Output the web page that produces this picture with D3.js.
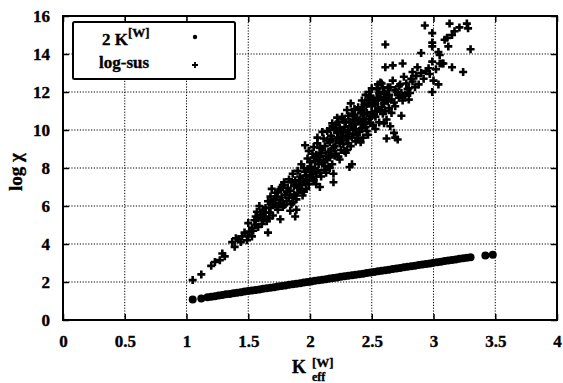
<!DOCTYPE html>
<html><head><meta charset="utf-8">
<script src="https://cdn.jsdelivr.net/npm/d3@7"></script>
<style>
body{margin:0;background:#fff}
text{font-family:"Liberation Serif","DejaVu Serif",serif;font-weight:bold;fill:#000;stroke:#000;stroke-width:0.35px}
</style>
</head><body>
<svg id="c" width="563" height="383"></svg>
<script>
// Axis ticks
const xTicks = [0, 0.5, 1, 1.5, 2, 2.5, 3, 3.5, 4];
const yTicks = [0, 2, 4, 6, 8, 10, 12, 14, 16];

// Series "2 K[W]" (filled dots)
const twoK = [
  [1.05,1.08],[1.12,1.13],
  [1.17,1.2],[1.2,1.22],[1.23,1.25],[1.26,1.29],[1.29,1.31],[1.32,1.35],[1.35,1.37],[1.38,1.41],
  [1.41,1.43],[1.44,1.46],[1.47,1.5],[1.5,1.52],[1.53,1.55],[1.56,1.58],[1.59,1.61],[1.62,1.64],
  [1.65,1.67],[1.68,1.7],[1.71,1.73],[1.74,1.76],[1.77,1.79],[1.8,1.82],[1.83,1.85],[1.86,1.88],
  [1.89,1.91],[1.92,1.94],[1.95,1.97],[1.98,2.0],[2.01,2.03],[2.04,2.06],[2.07,2.09],[2.1,2.12],
  [2.13,2.15],[2.16,2.18],[2.19,2.21],[2.22,2.24],[2.25,2.27],[2.28,2.3],[2.31,2.33],[2.34,2.35],
  [2.37,2.38],[2.4,2.41],[2.43,2.44],[2.46,2.47],[2.49,2.5],[2.52,2.53],[2.55,2.56],[2.58,2.59],
  [2.61,2.62],[2.64,2.65],[2.67,2.68],[2.7,2.71],[2.73,2.74],[2.76,2.77],[2.79,2.8],[2.82,2.83],
  [2.85,2.86],[2.88,2.89],[2.91,2.92],[2.94,2.95],[2.97,2.98],[3.0,3.01],[3.03,3.04],[3.06,3.07],
  [3.09,3.1],[3.12,3.13],[3.15,3.16],[3.18,3.19],[3.21,3.22],[3.24,3.25],[3.27,3.27],[3.3,3.3],
  [3.42,3.4],[3.48,3.43]
];

// Series "log-sus" (plus markers)
const logSus = [
  [1.05,2.1],[1.12,2.4],[1.2,2.85],[1.23,3.05],[1.27,3.15],[1.29,3.5],[1.31,3.35],[1.37,4.1],
  [1.39,3.85],[1.42,4.25],[1.45,4.4],[1.49,4.2],[1.5,4.45],[1.51,4.65],[1.53,4.85],[1.5,5.1],
  [1.55,5.25],[1.57,5.7],[1.6,5.55],[1.66,4.6],[1.64,5.9],[1.69,6.05],[1.73,6.5],[1.76,6.85],
  [1.78,7.1],[1.88,5.45],[1.76,5.3],[1.84,5.75],
  [1.54,4.7],[1.56,5.0],[1.58,5.35],[1.61,5.05],[1.62,5.8],[1.59,6.0],[1.63,5.45],
  [1.65,5.2],[1.67,5.65],[1.66,6.25],[1.68,5.9],[1.7,5.5],[1.71,6.35],[1.72,6.7],[1.69,6.9],
  [1.74,5.8],[1.75,6.15],[1.77,6.45],[1.74,6.75],[1.79,7.25],[1.78,5.95],[1.8,6.6],
  [1.81,6.25],[1.82,6.95],[1.83,7.4],[1.85,6.1],[1.86,6.45],[1.84,6.8],[1.87,7.05],[1.86,7.7],[1.88,7.35],
  [1.89,6.35],[1.9,6.7],[1.91,7.0],[1.92,7.55],[1.9,7.85],[1.93,8.2],[1.94,6.55],[1.95,7.25],[1.96,7.8],
  [1.97,6.9],[1.98,8.5],[1.99,7.15],[2.0,7.6],[2.01,8.05],[2.02,8.75],[2.03,7.35],[2.04,8.35],[1.99,8.9],[2.03,9.1],
  [2.05,7.15],[2.06,7.85],[2.07,8.2],[2.08,8.6],[2.06,9.3],[2.09,7.55],[2.1,8.95],[2.11,9.55],[2.12,8.1],[2.1,9.9],
  [2.13,7.75],[2.14,8.45],[2.15,8.85],[2.16,9.35],[2.17,9.7],[2.18,8.2],[2.19,10.15],[2.16,10.05],[2.2,8.65],[2.19,9.05],
  [2.21,9.45],[2.22,9.85],[2.23,10.4],[2.24,8.45],[2.25,8.95],[2.26,10.7],[2.27,9.25],[2.25,9.65],[2.28,10.15],[2.22,10.65],
  [2.29,8.8],[2.3,9.55],[2.31,10.0],[2.32,10.45],[2.33,9.15],[2.34,10.85],[2.35,9.8],[2.3,11.05],[2.36,10.3],[2.33,11.4],
  [2.37,9.4],[2.38,10.65],[2.39,11.2],[2.4,9.9],[2.41,10.35],[2.42,11.55],[2.43,9.6],[2.44,10.85],[2.4,11.05],
  [2.45,10.15],[2.46,11.35],[2.47,9.75],[2.48,10.6],[2.49,11.8],[2.5,10.95],[2.51,10.25],[2.52,11.5],[2.48,12.0],
  [2.53,10.7],[2.54,12.15],[2.55,11.1],[2.56,10.4],[2.57,11.75],[2.58,12.45],[2.59,10.85],[2.6,11.4],[2.57,12.5],
  [2.61,11.9],[2.62,10.55],[2.63,12.25],[2.64,11.15],[2.65,10.2],[2.66,11.6],[2.67,12.6],[2.68,9.85],[2.62,9.55],
  [2.69,11.25],[2.7,12.0],[2.71,9.5],[2.72,11.7],[2.73,12.4],[2.75,11.55],[2.76,12.8],[2.77,11.85],[2.74,10.75],
  [2.79,12.15],[2.8,11.6],[2.81,11.95],[2.83,12.55],[2.85,12.25],[2.86,12.85],[2.88,12.4],[2.9,13.0],
  [2.92,12.7],[2.94,13.1],[2.97,12.95],[2.99,12.0],[3.0,12.6],[3.04,12.4],[3.02,13.2],
  [2.61,13.3],[2.67,13.4],[2.75,13.5],[2.87,13.3],[2.96,13.25],[2.99,13.6],[3.05,13.5],[3.08,13.5],
  [3.15,13.3],[2.77,11.8],[2.69,9.6],
  [2.93,15.5],[2.99,15.1],[2.99,14.6],[2.99,14.4],[3.13,15.6],[3.21,15.4],[3.27,15.6],[3.28,15.35],
  [3.17,15.2],[3.15,15.0],[3.11,14.85],[3.09,14.75],[3.12,14.4],[3.3,14.25],[2.9,14.05],[3.04,14.1],
  [3.05,13.95],[3.07,13.5],[3.24,13.05],[2.83,13.05],[2.61,14.5],
  [1.96,9.2],[2.19,7.25],[2.19,7.7],[2.34,8.2],[1.77,7.0],[2.08,7.0],[2.32,8.05],[2.16,8.0],[1.89,5.8],
  [1.72,6.1],[1.76,6.3],[1.79,6.05],[1.81,6.75],[1.83,6.45],[1.85,7.25],[1.87,6.6],[1.89,7.1],[1.91,7.3],
  [1.92,6.85],[1.94,7.45],[1.95,8.0],[1.97,7.6],[1.98,7.35],[2.0,8.3],[2.01,7.85],[2.02,7.45],[2.04,7.95],
  [2.05,8.7],[2.07,8.45],[2.08,7.75],[2.09,8.8],[2.11,8.35],[2.12,9.15],[2.13,8.65],[2.14,9.45],[2.15,8.05],
  [2.17,8.9],[2.18,9.55],[2.2,9.15],[2.21,8.75],[2.23,9.6],[2.24,10.1],[2.26,9.45],[2.27,9.9],[2.28,8.9],
  [2.29,10.4],[2.31,9.3],[2.32,9.8],[2.33,10.2],[2.34,9.6],[2.35,10.55],[2.37,10.05],[2.38,9.75],[2.39,10.45],
  [2.41,10.9],[2.42,10.1],[2.43,10.6],[2.44,11.3],[2.45,10.45],[2.46,10.9],[2.47,11.6],[2.49,10.35],[2.5,11.25],
  [2.51,11.65],[2.52,10.8],[2.53,11.35],[2.54,11.0],[2.55,11.6],[2.56,11.95],[2.58,11.2],[2.59,11.55],[2.6,12.0],
  [2.61,11.0],[2.63,11.5],[2.64,11.85],[2.65,12.25],[2.66,10.9],[2.68,11.45],[2.69,12.1],[2.71,11.85],[2.72,12.3],
  [2.74,11.95],[2.78,12.45],[2.8,12.2],[2.82,12.7],[1.62,5.25],[1.64,5.65],[1.67,5.35],[1.7,6.15],[1.73,5.95],
  [1.68,6.5],[1.58,4.9],[1.56,5.45],[1.47,4.6],[1.44,4.1],[1.4,4.3],[1.53,4.4],[2.55,12.4],[2.5,12.2],
  [2.45,11.85],[2.36,11.1],[2.27,10.55],[2.18,10.35],[2.06,9.6],[2.2,10.0],[2.41,9.35],[2.46,9.95],[2.53,10.05],
  [2.6,10.35],[2.3,8.95],[2.23,8.6],[2.12,7.9],[2.05,7.55],[1.95,6.75],[1.86,6.2],
  [1.98,7.95],[2.03,8.55],[2.08,9.05],[2.14,9.95],[2.21,10.3],[2.26,10.0],[2.31,10.75],[2.36,10.8],
  [2.43,11.1],[2.48,11.4],[2.54,11.7],[2.59,12.2],[2.24,9.3],[2.29,9.7],[2.35,10.0],[2.39,9.55],
  [2.44,10.3],[2.49,10.75],[2.57,11.05],[2.62,11.65],[2.16,8.55],[2.1,8.25],[2.02,7.7],[1.93,7.1]
];

const svg = d3.select("#c");
const x = d3.scaleLinear().domain([0, 4]).range([63, 557]);
const y = d3.scaleLinear().domain([0, 16]).range([320, 16]);

// dotted grid
const grid = svg.append("g").attr("stroke", "#000").attr("stroke-width", 1)
  .attr("stroke-dasharray", "1.2,1.6");
grid.selectAll("line.gx").data(xTicks.slice(1, -1)).join("line")
  .attr("x1", d => x(d)).attr("x2", d => x(d)).attr("y1", y(0)).attr("y2", y(16));
grid.selectAll("line.gy").data(yTicks.slice(1, -1)).join("line")
  .attr("x1", x(0)).attr("x2", x(4)).attr("y1", d => y(d)).attr("y2", d => y(d));

// axes with inward ticks
const axB = svg.append("g").attr("transform", `translate(0,${y(0)})`)
  .call(d3.axisBottom(x).tickValues(xTicks).tickFormat(d3.format("")).tickSize(-6).tickPadding(15));
const axL = svg.append("g").attr("transform", `translate(${x(0)},0)`)
  .call(d3.axisLeft(y).tickValues(yTicks).tickSize(-6).tickPadding(13));
const axT = svg.append("g").attr("transform", `translate(0,${y(16)})`)
  .call(d3.axisTop(x).tickValues(xTicks).tickSize(-6).tickFormat(""));
const axR = svg.append("g").attr("transform", `translate(${x(4)},0)`)
  .call(d3.axisRight(y).tickValues(yTicks).tickSize(-6).tickFormat(""));
[axB, axL, axT, axR].forEach(a => {
  a.select(".domain").remove();
  a.selectAll(".tick line").attr("stroke", "#000").attr("stroke-width", 1.5);
  a.selectAll("text").style("font-family", "'Liberation Serif',serif")
    .style("font-weight", "bold").style("font-size", "17px").attr("fill", "#000");
});

// frame
svg.append("rect").attr("x", x(0)).attr("y", y(16))
  .attr("width", x(4) - x(0)).attr("height", y(0) - y(16))
  .attr("fill", "none").attr("stroke", "#000").attr("stroke-width", 2);

// plus marker
const plus = "M-4,0H4M0,-4V4";

// log-sus points
svg.append("g").selectAll("path").data(logSus).join("path")
  .attr("d", plus).attr("transform", d => `translate(${x(d[0])},${y(d[1])})`)
  .attr("stroke", "#000").attr("stroke-width", 2.6).attr("fill", "none");

// 2K points
svg.append("g").selectAll("circle").data(twoK).join("circle")
  .attr("cx", d => x(d[0])).attr("cy", d => y(d[1])).attr("r", 4).attr("fill", "#000");

// legend
const lg = svg.append("g");
lg.append("rect").attr("x", 73).attr("y", 22).attr("width", 162).attr("height", 57)
  .attr("fill", "#fff").attr("stroke", "#000").attr("stroke-width", 2).attr("rx", 1.5);
const t1 = lg.append("text").attr("x", 102).attr("y", 45).style("font-size", "17px");
t1.append("tspan").text("2 K");
t1.append("tspan").attr("dy", -8).style("font-size", "13px").text("[W]");
lg.append("text").attr("x", 99).attr("y", 68).style("font-size", "17px").text("log-sus");
lg.append("circle").attr("cx", 195).attr("cy", 37).attr("r", 2.2).attr("fill", "#000");
lg.append("path").attr("d", "M-3,0H3M0,-3V3").attr("transform", "translate(195,65)")
  .attr("stroke", "#000").attr("stroke-width", 1.8);

// axis titles
svg.append("text").attr("transform", "translate(22,172) rotate(-90)")
  .attr("text-anchor", "middle").style("font-size", "19px").text("log χ");
svg.append("text").attr("x", 292).attr("y", 373).style("font-size", "18px").text("K");
svg.append("text").attr("x", 312).attr("y", 381).style("font-size", "12px").text("eff");
svg.append("text").attr("x", 312).attr("y", 367).style("font-size", "13px").text("[W]");
</script>
</body></html>
